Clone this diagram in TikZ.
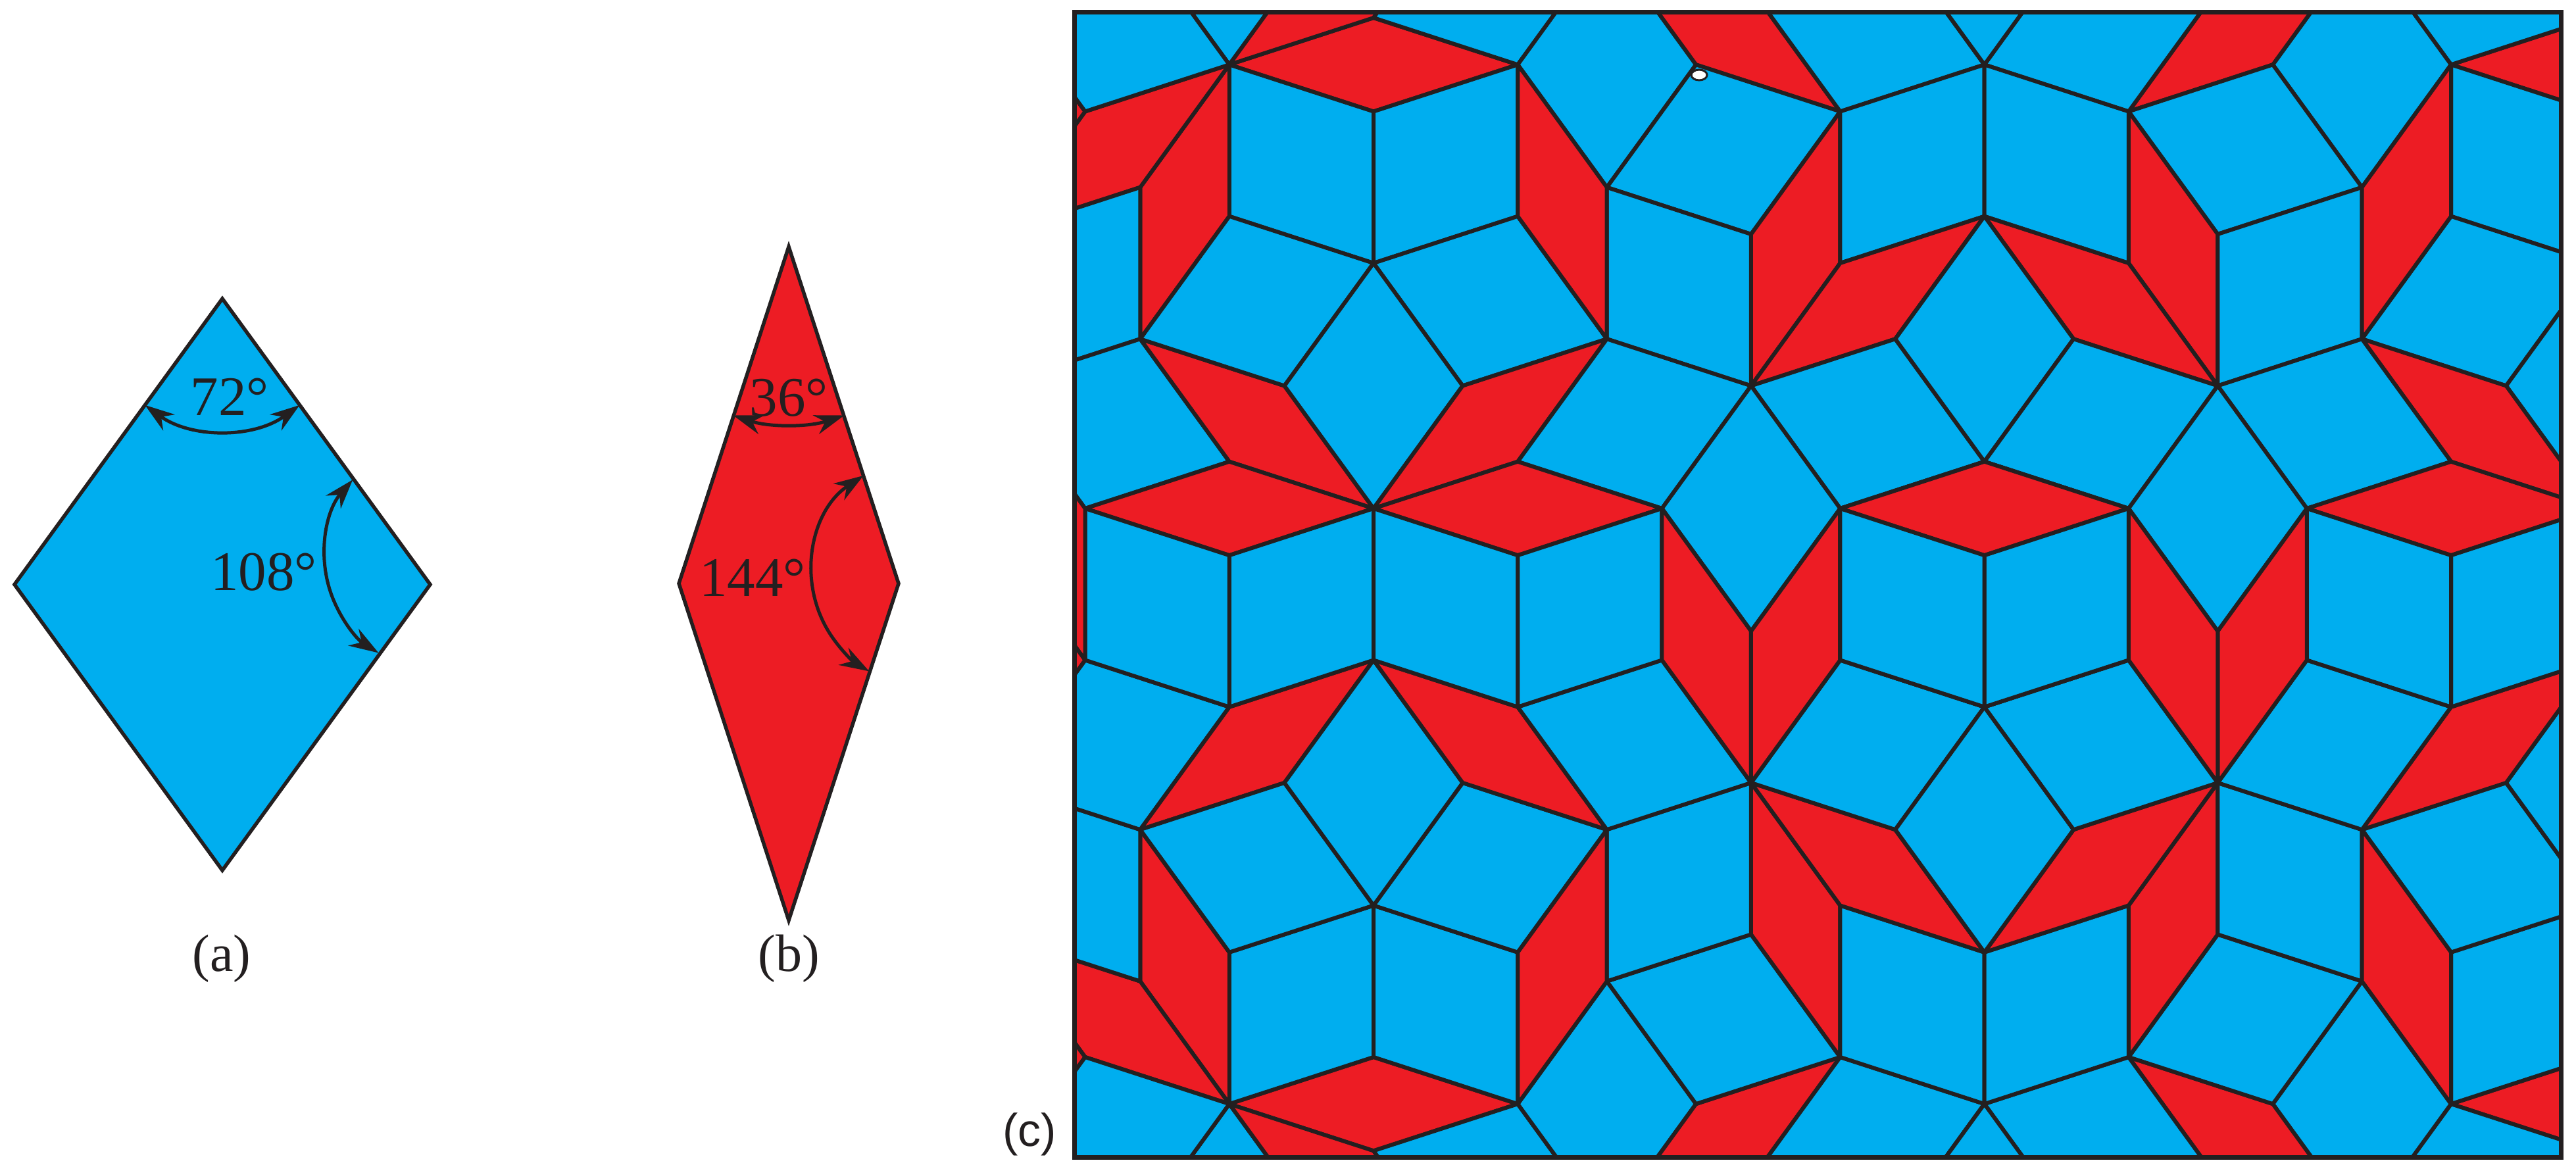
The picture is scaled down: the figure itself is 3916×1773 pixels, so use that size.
\documentclass[tikz,border=0pt]{standalone}
\usepackage{fontspec}
\setmainfont{Liberation Serif}
\newfontfamily\csans{Liberation Sans}
\usetikzlibrary{arrows.meta}
\definecolor{tblue}{RGB}{0,174,239}
\definecolor{tred}{RGB}{237,28,36}
\definecolor{tline}{RGB}{35,31,32}
% edge vectors of the rhombus lattice (image units, y downwards)
\def\dvVx{0}\def\dvVy{230.5}
\def\dvVnx{0}\def\dvVny{-230.5}
\def\dvAx{219.219}\def\dvAy{71.228}
\def\dvAnx{-219.219}\def\dvAny{-71.228}
\def\dvBx{219.219}\def\dvBy{-71.228}
\def\dvBnx{-219.219}\def\dvBny{71.228}
\def\dvCx{135.485}\def\dvCy{186.478}
\def\dvCnx{-135.485}\def\dvCny{-186.478}
\def\dvDx{135.485}\def\dvDy{-186.478}
\def\dvDnx{-135.485}\def\dvDny{186.478}
% \tile{v}{a}{b}{c}{d}{dir1}{dir2}{colour}
\newcommand\tile[8]{%
 \pgfmathsetmacro\tlx{2088+219.219*((#2)+(#3))+135.485*((#4)+(#5))}%
 \pgfmathsetmacro\tly{400+230.5*(#1)+71.228*((#2)-(#3))+186.478*((#4)-(#5))}%
 \edef\tux{\csname dv#6x\endcsname}\edef\tuy{\csname dv#6y\endcsname}%
 \edef\twx{\csname dv#7x\endcsname}\edef\twy{\csname dv#7y\endcsname}%
 \filldraw[tileedge,fill=#8] (\tlx,\tly) -- ++(\tux,\tuy) -- ++(\twx,\twy) -- ++({0-(\tux)},{0-(\tuy)}) -- cycle;%
}
\newcommand\topquad{%
\tile{-1}{-1}{0}{0}{0}{B}{A}{tred}%
\tile{-1}{-1}{0}{0}{0}{A}{V}{tblue}%
\tile{-1}{0}{0}{0}{0}{B}{V}{tblue}%
\tile{-1}{-1}{0}{0}{-1}{D}{V}{tred}%
\tile{-1}{-1}{-1}{0}{0}{B}{Dn}{tred}%
\tile{-1}{-1}{-1}{0}{0}{Cn}{Dn}{tred}%
\tile{-1}{-1}{0}{0}{-1}{V}{Bn}{tblue}%
\tile{0}{-1}{0}{0}{-1}{Bn}{C}{tblue}%
\tile{0}{-1}{0}{0}{-1}{A}{C}{tred}%
\tile{0}{-1}{0}{0}{0}{A}{Dn}{tblue}%
\tile{0}{0}{0}{0}{0}{B}{C}{tblue}%
\tile{0}{0}{0}{0}{0}{C}{Dn}{tblue}%
\tile{0}{0}{0}{1}{0}{B}{Dn}{tred}%
\tile{-1}{-1}{0}{0}{0}{D}{Cn}{tblue}%
\tile{-1}{-1}{0}{0}{0}{B}{D}{tred}%
\tile{-1}{-1}{-1}{0}{0}{B}{Cn}{tblue}%
\tile{-1}{-1}{1}{0}{0}{A}{D}{tblue}%
\tile{-1}{0}{1}{0}{0}{D}{C}{tblue}%
\tile{-1}{0}{1}{0}{1}{C}{A}{tred}%
\tile{-1}{1}{1}{1}{1}{B}{Cn}{tblue}%
\tile{-1}{1}{2}{1}{1}{Cn}{D}{tblue}%
\tile{-1}{0}{1}{1}{0}{D}{A}{tblue}%
\tile{-1}{1}{1}{1}{0}{D}{V}{tred}%
\tile{-1}{1}{1}{1}{1}{B}{V}{tblue}%
\tile{-1}{0}{1}{1}{0}{A}{V}{tblue}%
\tile{-1}{0}{1}{0}{0}{C}{V}{tred}%
\tile{0}{0}{1}{1}{-1}{D}{A}{tblue}%
\tile{0}{1}{1}{1}{0}{D}{B}{tred}%
\tile{0}{1}{2}{1}{0}{D}{C}{tblue}%
\tile{0}{1}{1}{1}{0}{B}{C}{tblue}%
}
\newcommand\bandtiles{%
\tile{0}{-1}{-1}{1}{-1}{B}{A}{tred}%
\tile{0}{-1}{-1}{1}{-1}{A}{V}{tblue}%
\tile{0}{0}{-1}{1}{-1}{B}{V}{tblue}%
\tile{0}{0}{0}{1}{-1}{B}{A}{tred}%
\tile{0}{0}{0}{1}{-1}{A}{V}{tblue}%
\tile{0}{1}{0}{1}{-1}{B}{V}{tblue}%
\tile{0}{1}{1}{1}{-1}{D}{C}{tblue}%
\tile{0}{1}{1}{1}{-1}{C}{V}{tred}%
\tile{0}{1}{1}{2}{-1}{D}{V}{tred}%
\tile{0}{1}{1}{2}{0}{B}{A}{tred}%
\tile{0}{1}{1}{2}{0}{A}{V}{tblue}%
\tile{0}{2}{1}{2}{0}{B}{V}{tblue}%
\tile{0}{-1}{-1}{0}{-1}{C}{V}{tred}%
\tile{1}{-1}{-1}{1}{-1}{Cn}{Dn}{tred}%
}
\tikzset{
 tileedge/.style={draw=tline,line width=1.2pt,line join=round},
 shapeedge/.style={draw=tline,line width=1.1pt,line join=miter},
 angarrow/.style={draw=tline,line width=1pt,arrows={Stealth[length=9pt,width=6pt]-Stealth[length=9pt,width=6pt]}},
 anglabel/.style={inner sep=0pt,anchor=base,font=\fontsize{17}{20}\selectfont,text=tline},
 caplabel/.style={inner sep=0pt,font=\fontsize{16}{19}\selectfont,text=tline},
}
\begin{document}
\begin{tikzpicture}[x=0.2pt,y=-0.2pt]
\useasboundingbox (0,0) rectangle (3916,1773);
\fill[white] (0,0) rectangle (3916,1773);
% (a) fat rhombus
\filldraw[shapeedge,fill=tblue] (338,454) -- (654,888.5) -- (338,1323) -- (22,888.5) -- cycle;
\draw[angarrow] (220.4,615.8) arc[start angle=126,end angle=54,radius=200];
\draw[angarrow] (536.2,729.3) arc[start angle=221,end angle=122,radius=175];
\node[anglabel] (l72) at (349,631) {72°};
\node[anglabel] (l108) at (401,897) {108°};
\node[caplabel] (la) at (337,1457) {(a)};
% (b) thin rhombus
\filldraw[shapeedge,fill=tred] (1199,375) -- (1366,887) -- (1199,1399) -- (1032,887) -- cycle;
\draw[angarrow] (1114.7,631.5) arc[start angle=108.2,end angle=71.8,radius=270];
\draw[angarrow] (1312.7,722.9) arc[start angle=236.6,end angle=120.1,radius=175];
\node[anglabel] (l36) at (1199,632) {36°};
\node[anglabel] (l144) at (1144,906) {144°};
\node[caplabel] (lb) at (1199,1457) {(b)};
% (c) Penrose tiling
\begin{scope}
 \clip (1633,18) rectangle (3893,1759);
 \topquad
 \begin{scope}[shift={(6033.254,0)},xscale=-1]\topquad\end{scope}
 \begin{scope}[shift={(0,1776.412)},yscale=-1]\topquad\end{scope}
 \begin{scope}[shift={(6033.254,1776.412)},xscale=-1,yscale=-1]\topquad\end{scope}
 \bandtiles
 \begin{scope}[shift={(6033.254,0)},xscale=-1]\bandtiles\end{scope}
 \filldraw[fill=white,draw=tline,line width=0.6pt] (2583,114) ellipse [x radius=12, y radius=8];
\end{scope}
\draw[draw=tline,line width=1.4pt] (1633,18) rectangle (3893,1759);
\node[inner sep=0pt,font=\csans\fontsize{14}{17}\selectfont,text=tline] (lc) at (1565,1724) {(c)};
\end{tikzpicture}
\end{document}
